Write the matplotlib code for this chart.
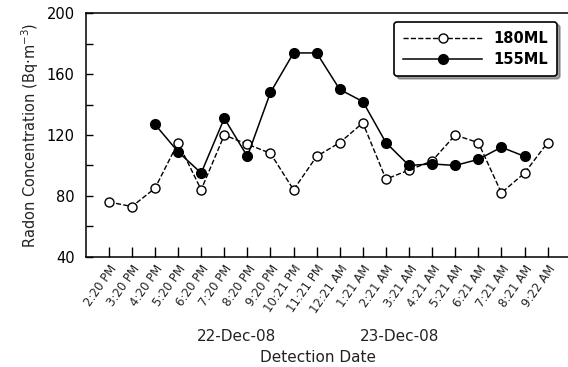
import numpy as np
import matplotlib
matplotlib.use('Agg')
import matplotlib.pyplot as plt

# horas de deteccion
horas = ['2:20 PM', '3:20 PM', '4:20 PM', '5:20 PM', '6:20 PM', '7:20 PM',
         '8:20 PM', '9:20 PM', '10:21 PM', '11:21 PM', '12:21 AM', '1:21 AM',
         '2:21 AM', '3:21 AM', '4:21 AM', '5:21 AM', '6:21 AM', '7:21 AM',
         '8:21 AM', '9:22 AM']

# concentracion de radon
ml180 = [76, 73, 85, 115, 84, 120, 114, 108, 84, 106, 115, 128,
         91, 97, 103, 120, 115, 82, 95, 115]
ml155 = [None, None, 127, 109, 95, 131, 106, 148, 174, 174, 150, 142,
         115, 100, 101, 100, 104, 112, 106, None]

fechas = ['22-Dec-08', '23-Dec-08']

x = np.arange(len(horas))
y155 = np.array([np.nan if v is None else v for v in ml155], dtype=float)

fig = plt.figure(figsize=(5.68, 3.67), dpi=100)
ax = fig.add_axes([85.7/568, 110.3/367, 485/568, 243.3/367])

ax.plot(x, ml180, '--', color='black', lw=1, marker='o', ms=6.5,
        mfc='white', mec='black', mew=1, label='180ML')
ax.plot(x, y155, '-', color='black', lw=1.1, marker='o', ms=7,
        mfc='black', mec='black', label='155ML')

ax.set_xlim(-1, 20)
ax.set_ylim(40, 200)
ax.set_yticks([40, 80, 120, 160, 200])
ax.set_yticks([60, 100, 140, 180], minor=True)
ax.set_xticks(x)
ax.set_xticklabels(horas, rotation=55, ha='right', rotation_mode='anchor',
                   fontsize=8.5, color='#222222')
ax.tick_params(axis='y', which='both', direction='in', length=5, width=1,
               labelsize=10.5, pad=8)
ax.tick_params(axis='x', direction='in', length=7, width=1, pad=4)
ax.spines['right'].set_visible(False)
for s in ['left', 'bottom', 'top']:
    ax.spines[s].set_linewidth(1.1)

ax.set_ylabel('Radon Concentration (Bq·m$^{-3}$)', fontsize=10.5,
              color='#222222', labelpad=4)

fig.text(236.7/568, 1 - 336.7/367, fechas[0], ha='center', va='center',
         fontsize=11, color='#222222')
fig.text(400/568, 1 - 336.7/367, fechas[1], ha='center', va='center',
         fontsize=11, color='#222222')
fig.text(318/568, 1 - 357/367, 'Detection Date', ha='center', va='center',
         fontsize=11, color='#222222')

leg = ax.legend(loc='upper right', bbox_to_anchor=(0.972, 0.965),
                borderaxespad=0, fancybox=True, shadow=True,
                handlelength=5.4, prop={'weight': 'bold', 'size': 10.5},
                framealpha=1, edgecolor='black', borderpad=0.6,
                labelspacing=0.45)
leg.get_frame().set_linewidth(1.2)

fig.savefig('out.png', dpi=100)
